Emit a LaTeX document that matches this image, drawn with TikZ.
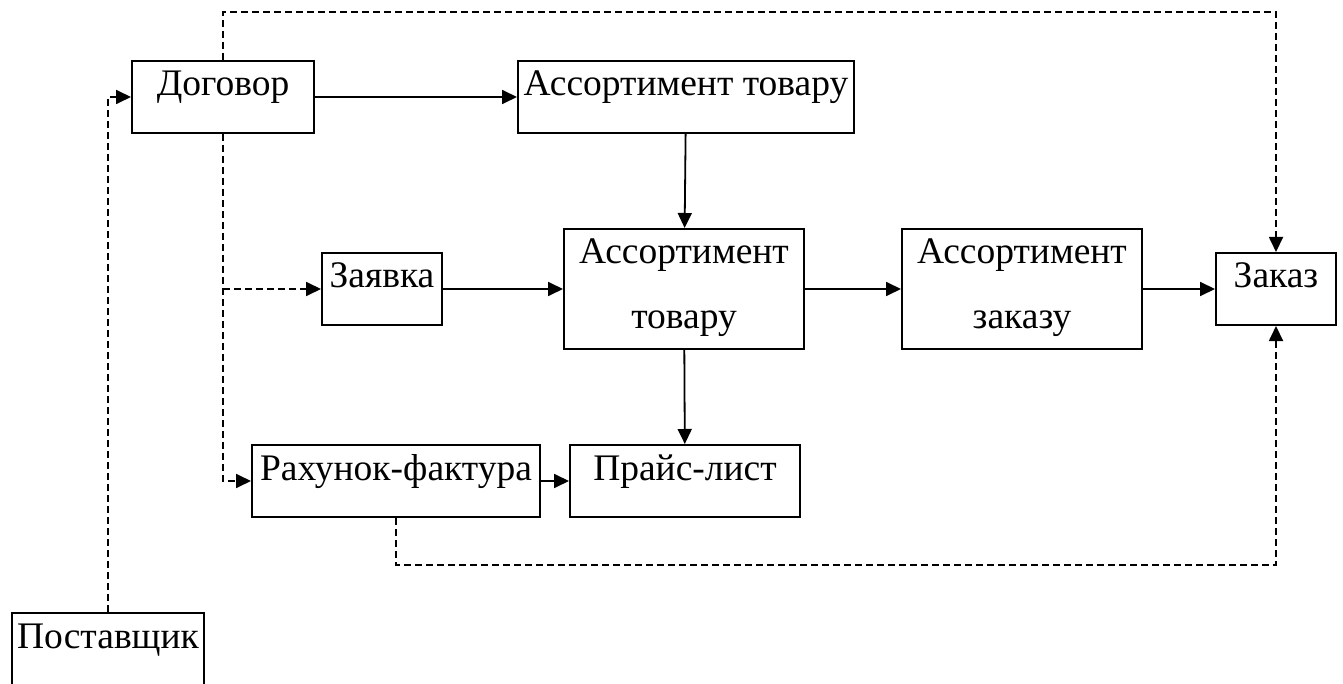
\documentclass[tikz,border=0pt]{standalone}
\usepackage{fontspec}
\setmainfont{Liberation Serif}
\usetikzlibrary{arrows.meta,positioning}
\tikzset{
  blok/.style={draw,line width=2pt,inner sep=0pt,text height=35pt,text depth=37pt,
    font=\fontsize{37.5}{65}\selectfont},
  blokdva/.style={blok,align=center,text height=100pt,text depth=20pt},
  pot/.style={-{Triangle[length=15pt,width=14pt]},line width=1.8pt},
  shtrykh/.style={pot,dash pattern=on 7pt off 4pt}
}
\begin{document}
\begin{tikzpicture}[x=1pt,y=-1pt]
  \useasboundingbox (0,0) rectangle (1343,684);
  \node[blok, minimum width=182pt, anchor=north west] (Dog) at (131,60) {Договор};
  \node[blok, minimum width=336pt, right=202pt of Dog] (AsT) {Ассортимент товару};
  \node[blokdva, minimum width=240pt, anchor=north west] (AsM) at (563,228) {Ассортимент\\товару};
  \node[blok, minimum width=120pt, left=120pt of AsM] (Zay) {Заявка};
  \node[blokdva, minimum width=240pt, right=96pt of AsM] (AsZ) {Ассортимент\\заказу};
  \node[blok, minimum width=120pt, right=72pt of AsZ] (Zak) {Заказ};
  \node[blok, minimum width=288pt, anchor=north west] (Rah) at (251,444) {Рахунок-фактура};
  \node[blok, minimum width=230pt, right=28pt of Rah] (Pr) {Прайс-лист};
  \node[blok, minimum width=192pt, anchor=north west] (Post) at (11,612) {Поставщик};
  % dashed links
  \draw[shtrykh] (Post.north) |- (Dog.west);
  \draw[shtrykh] (Dog.north) -- ++(0,-48) -| (Zak.north);
  \draw[shtrykh] (Dog.south) |- (Rah.west);
  \draw[shtrykh] (Dog.south |- Zay.west) -- (Zay.west);
  \draw[shtrykh] (Rah.south) -- ++(0,47) -| (Zak.south);
  % solid links
  \draw[pot] (Dog.east) -- (Dog.east -| AsT.west);
  \draw[pot] (AsT) -- (AsM);
  \draw[pot] (Zay) -- (AsM);
  \draw[pot] (AsM) -- (AsZ);
  \draw[pot] (AsZ) -- (Zak);
  \draw[pot] (AsM) -- (Pr);
  \draw[pot] (Rah) -- (Pr);
\end{tikzpicture}
\end{document}
